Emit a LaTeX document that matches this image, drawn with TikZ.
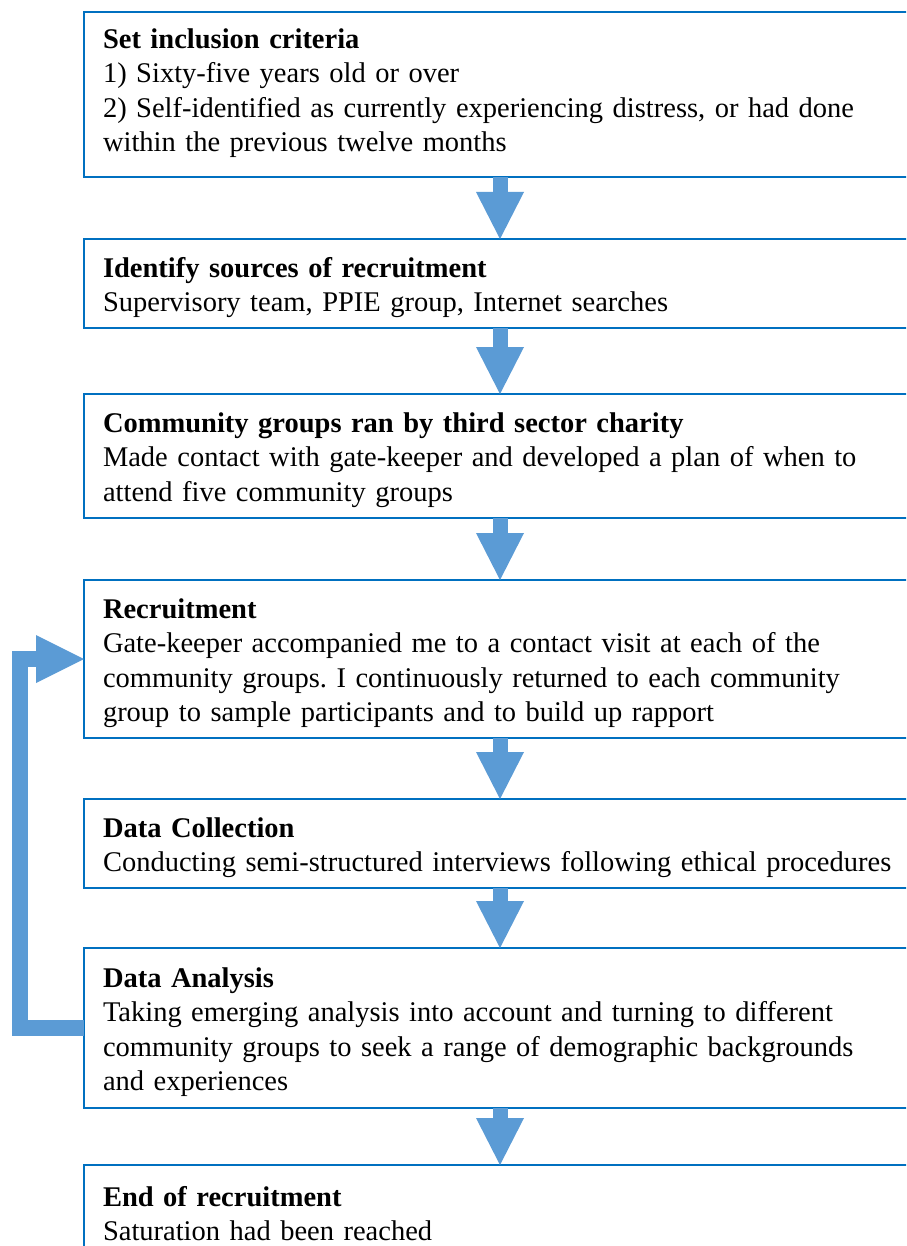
\documentclass[tikz,border=0pt]{standalone}
\usepackage{fontspec}
\setmainfont{Liberation Serif}
\usepackage{xcolor}
\usepackage{tikz}
\usetikzlibrary{arrows.meta, positioning}
\definecolor{boxblue}{HTML}{0070C0}
\definecolor{arrowblue}{HTML}{5B9BD5}
\newcommand{\firstline}{\rule{0pt}{28pt}}
\newcommand{\lastline}{\rule[-17pt]{0pt}{0pt}}
\tikzset{
node distance=62pt,
box/.style={%
    rectangle,
    draw=boxblue,
    line width=2.2pt,
    outer sep=0pt,
    inner xsep=19pt,
    inner ysep=4pt,
    text width=794pt,
    align=left,
    font=\fontsize{28.5}{34.5}\selectfont,
    execute at begin node=\firstline,
},
flowarrow/.style={%
    draw=arrowblue,
    line width=15pt,
    -{Triangle[width=48pt,length=47pt,line width=0pt]}
},
loopback/.style={%
    draw=arrowblue,
    line width=16pt,
    line join=miter,
    -{Triangle[width=48pt,length=48pt,line width=0pt]}
},
}
\frenchspacing

\begin{document}
\begin{tikzpicture}

\useasboundingbox (0,0) rectangle (906pt,-1246pt);
\fill[white] (0,0) rectangle (906pt,-1246pt);
\clip (0,0) rectangle (906pt,-1246pt);

\node[box,anchor=north west,minimum height=165pt,
      execute at end node=\lastline] (crit) at (84pt,-12pt)
  {\textbf{Set inclusion criteria}\\
   1) Sixty-five years old or over\\
   2) Self-identified as currently experiencing distress, or had done\\
   within the previous twelve months};
\node[box,minimum height=89pt,below=of crit] (ids)
  {\textbf{Identify sources of recruitment}\\
   Supervisory team, PPIE group, Internet searches};
\node[box,minimum height=124pt,below=66pt of ids] (comm)
  {\textbf{Community groups ran by third sector charity}\\
   Made contact with gate-keeper and developed a plan of when to\\
   attend five community groups};
\node[box,minimum height=158pt,below=of comm] (rec)
  {\textbf{Recruitment}\\
   Gate-keeper accompanied me to a contact visit at each of the\\
   community groups. I continuously returned to each community\\
   group to sample participants and to build up rapport};
\node[box,minimum height=89pt,below=61pt of rec] (coll)
  {\textbf{Data Collection}\\
   \mbox{Conducting semi-structured interviews following ethical procedures}};
\node[box,minimum height=160pt,below=60pt of coll] (ana)
  {\textbf{Data Analysis}\\
   Taking emerging analysis into account and turning to different\\
   community groups to seek a range of demographic backgrounds\\
   and experiences};
\node[box,minimum height=89pt,below=57pt of ana] (done)
  {\textbf{End of recruitment}\\
   Saturation had been reached};

\draw[flowarrow] (crit) -- (ids);
\draw[flowarrow] (ids) -- (comm);
\draw[flowarrow] (comm) -- (rec);
\draw[flowarrow] (rec) -- (coll);
\draw[flowarrow] (coll) -- (ana);
\draw[flowarrow] (ana) -- (done);

% back to recruitment
\draw[loopback] (ana.west) -- ++(-64pt,0) |- (rec.west);

\end{tikzpicture}
\end{document}
